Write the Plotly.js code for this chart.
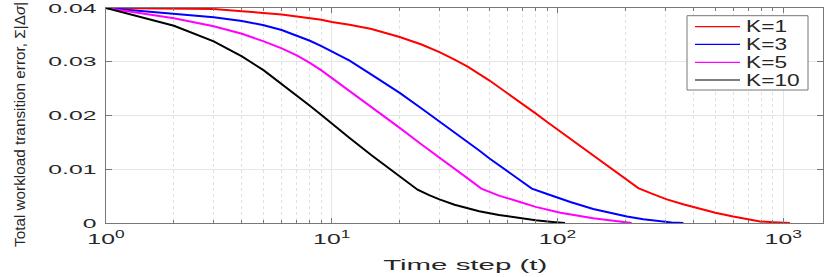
<!DOCTYPE html>
<html>
<head>
<meta charset="utf-8">
<script src="https://cdn.plot.ly/plotly-3.0.1.min.js"></script>
<style>html,body{margin:0;padding:0;background:#fff;}#chart{width:831px;height:277px;}</style>
</head>
<body>
<div id="chart"></div>
<script>
// ---- data ----
const seriesNames = ['K=1', 'K=3', 'K=5', 'K=10'];
const seriesColors = ['#ff0000', '#0000ff', '#ff00ff', '#000000'];

const tK1 = [1, 2, 3, 4, 5, 6, 7, 8, 9, 10, 12, 15, 17, 20, 25, 30, 35, 40, 50, 60, 70, 80, 90, 100, 120, 144, 170, 200, 228, 260, 305, 360, 428, 500, 600, 700, 790, 900, 1070];
const errK1 = [0.0400, 0.0399, 0.0398, 0.0394, 0.0391, 0.0388, 0.0384, 0.0381, 0.0378, 0.0374, 0.0369, 0.0361, 0.0355, 0.0346, 0.0332, 0.0318, 0.0304, 0.0291, 0.0265, 0.0242, 0.0222, 0.0204, 0.0188, 0.0174, 0.0150, 0.0126, 0.0104, 0.0083, 0.0065, 0.0055, 0.0044, 0.0035, 0.0026, 0.0019, 0.0012, 0.0007, 0.0003, 0.00015, 0.0000];

const tK3 = [1, 2, 3, 4, 5, 6, 7, 8, 9, 10, 12, 15, 17, 20, 25, 30, 35, 40, 45, 50, 60, 70, 77, 90, 100, 114, 144, 170, 203, 240, 285, 320, 361];
const errK3 = [0.0400, 0.0390, 0.0383, 0.0376, 0.0368, 0.0359, 0.0349, 0.0339, 0.0329, 0.0319, 0.0302, 0.0276, 0.0261, 0.0242, 0.0213, 0.0189, 0.0168, 0.0151, 0.0135, 0.0120, 0.0096, 0.0076, 0.0064, 0.0054, 0.0047, 0.0039, 0.0026, 0.0019, 0.0012, 0.0007, 0.0003, 0.0001, 0.0000];

const tK5 = [1, 2, 3, 4, 5, 6, 7, 8, 9, 10, 12, 15, 17, 20, 25, 30, 35, 40, 46, 55, 66, 80, 103, 120, 144, 170, 190, 213];
const errK5 = [0.0400, 0.0381, 0.0366, 0.0352, 0.0338, 0.0325, 0.0312, 0.0298, 0.0284, 0.0270, 0.0246, 0.0215, 0.0198, 0.0177, 0.0146, 0.0122, 0.0101, 0.0083, 0.0064, 0.0051, 0.0041, 0.0030, 0.0019, 0.0014, 0.0009, 0.0005, 0.0002, 0.0000];

const tK10 = [1, 2, 3, 4, 5, 6, 7, 8, 9, 10, 12, 15, 17, 20, 24, 27, 30, 35, 45, 55, 66, 80, 95, 108];
const errK10 = [0.0400, 0.0367, 0.0338, 0.0310, 0.0284, 0.0259, 0.0237, 0.0218, 0.0201, 0.0185, 0.0158, 0.0126, 0.0109, 0.0087, 0.0062, 0.0052, 0.0044, 0.0034, 0.0022, 0.0015, 0.0010, 0.0005, 0.0002, 0.0000];

const xTickVals = [1, 10, 100, 1000];
const xTickText = ['10<sup>0</sup>', '10<sup>1</sup>', '10<sup>2</sup>', '10<sup>3</sup>'];
const yTickVals = [0, 0.01, 0.02, 0.03, 0.04];
const yTickText = ['0', '0.01', '0.02', '0.03', '0.04'];

const xTitle = 'Time step (t)';
const yTitle = 'Total workload transition error, \u03A3|\u0394<i>\u03C3</i>|';

// ---- layout geometry ----
const FIG_W = 831, FIG_H = 277;
const M = {l: 106, r: 8, t: 8, b: 54};
const PW = FIG_W - M.l - M.r, PH = FIG_H - M.t - M.b;
const px2x = p => (p - M.l) / PW;
const py2y = p => (M.t + PH - p) / PH;

const FONT = 'Liberation Sans, Arial, Helvetica, sans-serif';
const FRAME = '#777777';
const TXT = '#262626';

const xs = [tK1, tK3, tK5, tK10];
const ys = [errK1, errK3, errK5, errK10];

const traces = seriesNames.map((n, i) => ({
  type: 'scatter', mode: 'lines', name: n,
  x: xs[i], y: ys[i],
  line: {color: seriesColors[i], width: 2},
  showlegend: false
}));

// manual legend box (matches the reference's wide legend)
const legBox = {x0: 687, x1: 808, y0: 15.7, y1: 90};
const legRows = [26.7, 44.3, 62.3, 80];
const shapes = [{
  type: 'rect', xref: 'paper', yref: 'paper',
  x0: px2x(legBox.x0), x1: px2x(legBox.x1), y0: py2y(legBox.y1), y1: py2y(legBox.y0),
  fillcolor: '#ffffff', line: {color: FRAME, width: 1}, layer: 'above'
}];
const annotations = [];
seriesNames.forEach((n, i) => {
  shapes.push({
    type: 'line', xref: 'paper', yref: 'paper',
    x0: px2x(695), x1: px2x(740), y0: py2y(legRows[i]), y1: py2y(legRows[i]),
    line: {color: seriesColors[i], width: 1.2}, layer: 'above'
  });
  annotations.push({
    xref: 'paper', yref: 'paper', x: px2x(744), y: py2y(legRows[i]),
    xanchor: 'left', yanchor: 'middle', showarrow: false, text: n,
    font: {family: FONT, size: 16, color: TXT}
  });
});
annotations.push({
  xref: 'paper', yref: 'paper', x: 0.5, y: 0, yshift: -41,
  xanchor: 'center', yanchor: 'middle', showarrow: false, text: xTitle,
  font: {family: FONT, size: 15.5, color: TXT}
});
annotations.push({
  xref: 'paper', yref: 'paper', x: px2x(19), y: py2y(125),
  xanchor: 'center', yanchor: 'middle', showarrow: false, text: yTitle, textangle: -90,
  font: {family: FONT, size: 15.3, color: TXT}
});

const layout = {
  width: FIG_W, height: FIG_H,
  margin: M,
  paper_bgcolor: '#ffffff', plot_bgcolor: '#ffffff',
  showlegend: false,
  font: {family: FONT, color: TXT},
  xaxis: {
    type: 'log', range: [0, Math.log10(1500)],
    tickvals: xTickVals, ticktext: xTickText,
    ticks: 'inside', ticklen: 5, tickcolor: FRAME, tickwidth: 1,
    showline: true, linecolor: FRAME, linewidth: 1, mirror: 'ticks',
    showgrid: true, gridcolor: '#e6e6e6', gridwidth: 1,
    zeroline: false,
    tickfont: {family: FONT, size: 15, color: TXT},
    ticklabelstandoff: 2,
    minor: {dtick: 'D1', ticks: 'inside', ticklen: 3, tickcolor: FRAME,
            showgrid: true, gridcolor: '#e0e0e0', griddash: 'dot', gridwidth: 1},
    fixedrange: true
  },
  yaxis: {
    range: [0, 0.04],
    tickvals: yTickVals, ticktext: yTickText,
    ticks: 'inside', ticklen: 6, tickcolor: FRAME, tickwidth: 1,
    showline: true, linecolor: FRAME, linewidth: 1, mirror: 'ticks',
    showgrid: true, gridcolor: '#e6e6e6', gridwidth: 1,
    zeroline: false,
    tickfont: {family: FONT, size: 13, color: TXT},
    ticklabelstandoff: 6,
    fixedrange: true
  },
  shapes: shapes,
  annotations: annotations
};

function stretch(nodes, factor, anchor) {
  nodes.forEach(el => {
    const r = el.getBoundingClientRect();
    const ax = anchor === 'end' ? r.right : anchor === 'start' ? r.left : (r.left + r.right) / 2;
    const m = el.parentNode.getScreenCTM();
    const p = (ax - m.e) / m.a;
    const t = el.getAttribute('transform') || '';
    el.setAttribute('transform', 'translate(' + p + ',0) scale(' + factor + ',1) translate(' + (-p) + ',0) ' + t);
  });
}

Plotly.newPlot('chart', traces, layout, {displayModeBar: false, staticPlot: true}).then(gd => {
  stretch(Array.from(gd.querySelectorAll('.ytick text')), 1.9, 'end');
  stretch(Array.from(gd.querySelectorAll('.xtick text')), 1.65, 'middle');
  Array.from(gd.querySelectorAll('.annotation')).forEach(a => {
    const txt = a.querySelector('text.annotation-text');
    if (!txt) return;
    const s = txt.textContent;
    if (seriesNames.indexOf(s) >= 0) stretch([txt], 1.42, 'start');
    else if (s === xTitle) stretch([txt], 1.9, 'middle');
  });
});
</script>
</body>
</html>
